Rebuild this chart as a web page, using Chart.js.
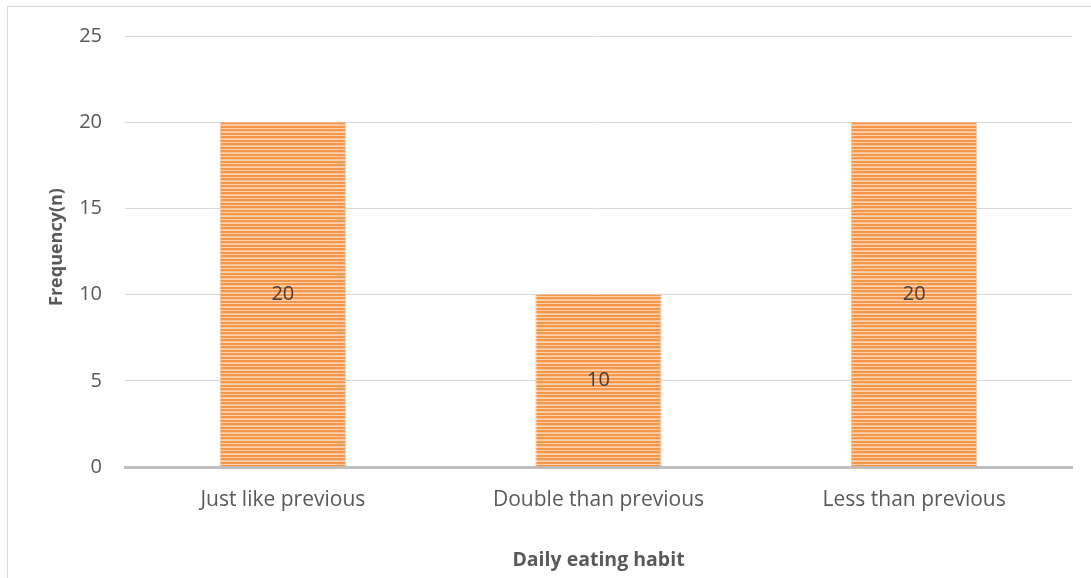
<!DOCTYPE html>
<html>
<head>
<meta charset="utf-8">
<title>Daily eating habit</title>
<script src="https://cdn.jsdelivr.net/npm/chart.js@4.4.1/dist/chart.umd.min.js"></script>
<style>
    html, body { margin: 0; padding: 0; background: #fff; }
    #wrap { position: relative; width: 1091px; height: 578px; }
</style>
</head>
<body>
<div id="wrap"><canvas id="habit-chart" width="1091" height="578"></canvas></div>
<script>
    "use strict";

    var categories = ["Just like previous", "Double than previous", "Less than previous"];
    var frequency = [20, 10, 20];
    var yTicks = [0, 5, 10, 15, 20, 25];

    var xTitle = "Daily eating habit";
    var yTitle = "Frequency(n)";

    // striped orange fill for the bars
    function stripes() {
        var c = document.createElement("canvas");
        c.width = 4;
        c.height = 7;
        var g = c.getContext("2d");
        var rows = ["#F79646", "#F79646", "#FCD3B2", "#F79646", "#F79646", "#FBC39A", "#FCD3B2"];
        rows.forEach(function (col, i) {
            g.fillStyle = col;
            g.fillRect(0, i, 4, 1);
        });
        return g.createPattern(c, "repeat");
    }

    // frame, value labels and the rotated y title
    var extras = {
        id: "extras",
        beforeDraw: function (chart) {
            var ctx = chart.ctx;
            ctx.save();
            ctx.strokeStyle = "#D9D9D9";
            ctx.lineWidth = 1;
            ctx.strokeRect(7.5, 6.5, 2000, 2000);
            ctx.restore();
        },
        afterDatasetsDraw: function (chart) {
            var ctx = chart.ctx;
            var meta = chart.getDatasetMeta(0);
            ctx.save();
            ctx.font = "20px 'Open Sans'";
            ctx.fillStyle = "#404040";
            ctx.textAlign = "center";
            ctx.textBaseline = "middle";
            meta.data.forEach(function (bar, i) {
                var v = chart.data.datasets[0].data[i];
                ctx.fillText(String(v), bar.x, (bar.y + bar.base) / 2);
            });
            ctx.restore();
        },
        afterDraw: function (chart) {
            var ctx = chart.ctx;
            ctx.save();
            ctx.translate(57, 247);
            ctx.rotate(-Math.PI / 2);
            ctx.font = "bold 18px 'Open Sans'";
            ctx.fillStyle = "#595959";
            ctx.textAlign = "center";
            ctx.textBaseline = "middle";
            ctx.fillText(yTitle, 0, 0);
            ctx.restore();
        }
    };

    new Chart(document.getElementById("habit-chart"), {
        type: "bar",
        data: {
            labels: categories,
            datasets: [{
                label: "Frequency",
                data: frequency,
                backgroundColor: stripes(),
                borderColor: "rgba(247,150,70,0.55)",
                borderWidth: { left: 1, right: 1, top: 0, bottom: 0 },
                barPercentage: 0.4,
                categoryPercentage: 1
            }]
        },
        options: {
            responsive: false,
            animation: false,
            devicePixelRatio: 1,
            layout: { padding: { top: 36, right: 19, left: 0, bottom: 0 } },
            plugins: {
                legend: { display: false },
                tooltip: { enabled: false }
            },
            font: { family: "'Open Sans'" },
            scales: {
                x: {
                    grid: { display: false },
                    border: { color: "#BFBFBF", width: 3 },
                    ticks: {
                        color: "#595959",
                        font: { family: "'Open Sans'", size: 21 },
                        padding: 12
                    },
                    title: {
                        display: true,
                        text: xTitle,
                        color: "#595959",
                        font: { family: "'Open Sans'", size: 19.5, weight: "bold" },
                        padding: { top: 0, bottom: 6 }
                    },
                    afterFit: function (s) { s.height = 111; }
                },
                y: {
                    min: 0,
                    max: 25,
                    afterBuildTicks: function (s) {
                        s.ticks = yTicks.map(function (v) { return { value: v }; });
                    },
                    grid: {
                        drawTicks: false,
                        color: function (c) { return c.tick && c.tick.value === 0 ? "rgba(0,0,0,0)" : "#D9D9D9"; },
                        lineWidth: 1
                    },
                    border: { display: false },
                    ticks: {
                        color: "#595959",
                        font: { family: "'Open Sans'", size: 20 },
                        padding: 23
                    },
                    afterFit: function (s) { s.width = 125; }
                }
            }
        },
        plugins: [extras]
    });
</script>
</body>
</html>
